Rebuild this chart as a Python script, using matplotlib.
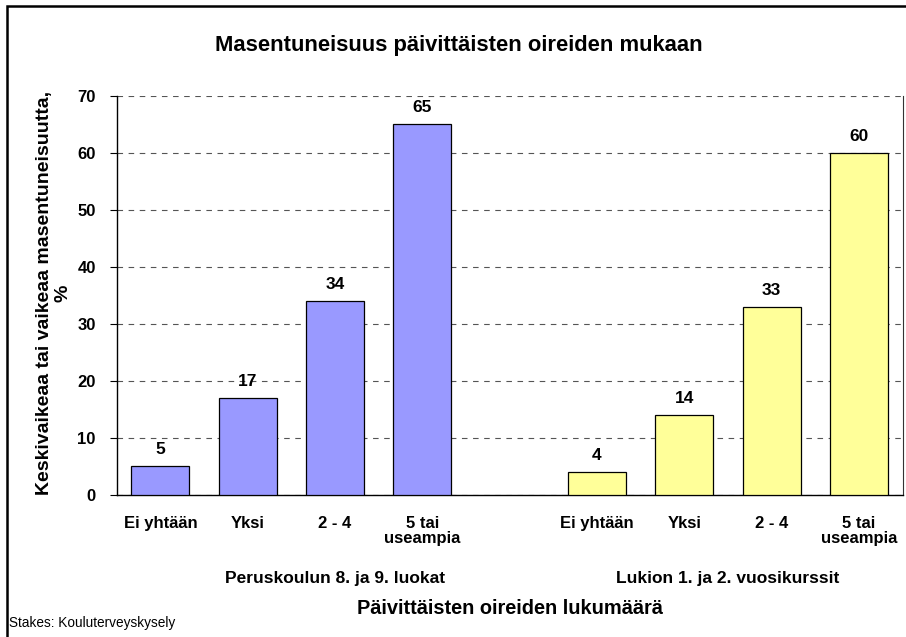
import matplotlib
matplotlib.use("Agg")
import matplotlib.pyplot as plt
from matplotlib.patches import Rectangle
import numpy as np

plt.rcParams['font.family'] = ['Liberation Sans', 'DejaVu Sans']

categories = ["Ei yhtään", "Yksi", "2 - 4", "5 tai\nuseampia"]
peruskoulu = [5, 17, 34, 65]
lukio = [4, 14, 33, 60]
group_labels = ["Peruskoulun 8. ja 9. luokat", "Lukion 1. ja 2. vuosikurssit"]

title = "Masentuneisuus päivittäisten oireiden mukaan"
ylabel = "Keskivaikeaa tai vaikeaa masentuneisuutta,\n%"
xlabel = "Päivittäisten oireiden lukumäärä"
source = "Stakes: Kouluterveyskysely"

blue = "#9999FF"
yellow = "#FFFF99"

W, H = 906, 637
fig = plt.figure(figsize=(W / 100, H / 100), dpi=100)
ax = fig.add_axes([116.7 / W, 1 - 495 / H, 786 / W, 399.3 / H])

x1 = np.arange(4)
x2 = np.arange(5, 9)
bw = 0.665
b1 = ax.bar(x1, peruskoulu, width=bw, color=blue, edgecolor="black", linewidth=0.9, zorder=3)
b2 = ax.bar(x2, lukio, width=bw, color=yellow, edgecolor="black", linewidth=0.9, zorder=3)

for bars, vals in ((b1, peruskoulu), (b2, lukio)):
    for b, v in zip(bars, vals):
        ax.annotate(str(v), (b.get_x() + b.get_width() / 2, v), xytext=(0, 6.5),
                    textcoords="offset points", ha="center", va="bottom",
                    fontsize=12.5, fontweight="bold")

ax.set_xlim(-0.5, 8.5)
ax.set_ylim(0, 70)
ax.set_yticks(range(0, 71, 10))
ax.set_xticks(list(x1) + list(x2))
ax.set_xticklabels(categories + categories, fontsize=12, fontweight="bold",
                   linespacing=1.05, va="top")
ax.tick_params(axis="x", length=0, pad=15)
ax.tick_params(axis="y", length=5, width=0.8, labelsize=12, pad=10)
for lab in ax.get_yticklabels():
    lab.set_fontweight("bold")

ax.yaxis.grid(True, color="#555555", linewidth=0.8, linestyle=(0, (5, 5)), zorder=0)
ax.set_axisbelow(True)
ax.spines["top"].set_visible(False)
ax.spines["right"].set_color("#333333")
ax.spines["left"].set_linewidth(1.0)
ax.spines["bottom"].set_linewidth(1.0)

ax.text(2.0, -14.6, group_labels[0], ha="center", va="center", fontsize=12.5, fontweight="bold")
ax.text(6.5, -14.6, group_labels[1], ha="center", va="center", fontsize=12.5, fontweight="bold")

fig.text(459 / W, 1 - 45 / H, title, ha="center", va="center", fontsize=15.8, fontweight="bold")
fig.text(509.7 / W, 1 - 608 / H, xlabel, ha="center", va="center", fontsize=14.4, fontweight="bold")
fig.text(54 / W, 1 - 293 / H, ylabel, ha="center", va="center", rotation=90,
         fontsize=14, fontweight="bold", linespacing=1.15)
fig.text(9 / W, 1 - 623 / H, source, ha="left", va="center", fontsize=9.8)

fig.patches.append(Rectangle((7 / W, -0.1), 1.2, 1.1 - 6 / H, transform=fig.transFigure,
                             fill=False, edgecolor="black", linewidth=1.8))

fig.savefig("out.png", dpi=100)
